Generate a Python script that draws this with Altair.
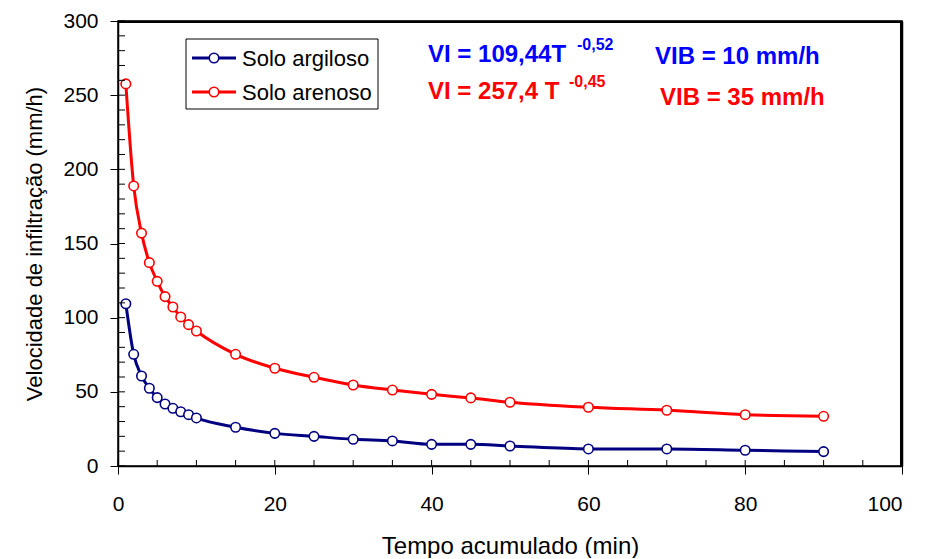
import altair as alt
import pandas as pd

# Data
t_arg = [1, 2, 3, 4, 5, 6, 7, 8, 9, 10, 15, 20, 25, 30, 35, 40, 45, 50, 60, 70, 80, 90]
v_arg = [109.4, 75.3, 60.7, 52.4, 46.1, 41.8, 38.9, 36.6, 34.6, 32.4, 26.1, 22.0, 20.0,
         18.0, 16.9, 14.6, 14.6, 13.5, 11.5, 11.5, 10.6, 9.7]
t_are = [1, 2, 3, 4, 5, 6, 7, 8, 9, 10, 15, 20, 25, 30, 35, 40, 45, 50, 60, 70, 80, 90]
v_are = [257.6, 188.8, 157.0, 137.1, 124.5, 114.2, 107.2, 100.5, 95.3, 91.0, 75.3, 65.9, 59.8,
         54.6, 51.2, 48.3, 45.9, 43.0, 39.6, 37.6, 34.6, 33.5]
series_names = ["Solo argiloso", "Solo arenoso"]
series_colors = ["#000080", "#FF0000"]
x_major = [0, 20, 40, 60, 80, 100]
y_major = [0, 50, 100, 150, 200, 250, 300]
x_minor = list(range(0, 101, 5))
y_minor = list(range(0, 301, 10))
x_max = [100]
y_max = [300]

FONT = "Liberation Sans"
W, H = 784, 445

df_arg = pd.DataFrame({"T": t_arg, "V": v_arg})
df_are = pd.DataFrame({"T": t_are, "V": v_are})

xs = alt.Scale(domain=[0, 100], nice=False, zero=False)
ys = alt.Scale(domain=[0, 300], nice=False)

xenc = alt.X("T:Q", scale=xs, axis=alt.Axis(
    title="Tempo acumulado (min)", values=x_major, tickSize=8, tickColor="black",
    domainColor="black", domainWidth=1.5, tickWidth=1, labelFontSize=21, titleFontSize=24,
    labelFont=FONT, titleFont=FONT, labelColor="black", titleColor="black",
    labelPadding=19, titlePadding=20, grid=False, titleFontWeight="normal",
    labelFlush=False,
    labelAlign={"condition": {"test": "datum.value == 100", "value": "right"}, "value": "center"}))
yenc = alt.Y("V:Q", scale=ys, axis=alt.Axis(
    title="Velocidade de infiltração (mm/h)", values=y_major, tickSize=8, tickColor="black",
    domainColor="black", domainWidth=1.5, tickWidth=1, labelFontSize=21, titleFontSize=22,
    labelFont=FONT, titleFont=FONT, labelColor="black", titleColor="black",
    labelPadding=12, titlePadding=16, grid=False, titleFontWeight="normal"))

XN = alt.X("T:Q", scale=xs, axis=None)
YN = alt.Y("V:Q", scale=ys, axis=None)

layers = []

# frame: top and right axis domains
layers.append(alt.Chart(pd.DataFrame({"T": x_max, "V": y_max})).mark_point(opacity=0).encode(
    x=alt.X("T:Q", scale=xs, axis=alt.Axis(orient="top", labels=False, ticks=False, title=None,
                                          grid=False, domainColor="black", domainWidth=1.5)),
    y=alt.Y("V:Q", scale=ys, axis=alt.Axis(orient="right", labels=False, ticks=False, title=None,
                                          grid=False, domainColor="black", domainWidth=1.5))))

first = True
for df, color in [(df_arg, series_colors[0]), (df_are, series_colors[1])]:
    base = alt.Chart(df)
    layers.append(base.mark_line(color=color, strokeWidth=3, interpolate="monotone")
                  .encode(x=xenc if first else XN, y=yenc if first else YN))
    layers.append(base.mark_point(shape="circle", filled=True, fill="white", stroke=color,
                                  strokeWidth=1.6, size=90, opacity=1)
                  .encode(x=XN, y=YN))
    first = False

# minor ticks (inside)
ymin_df = pd.DataFrame({"V": y_minor})
xmin_df = pd.DataFrame({"T": x_minor})
layers.append(alt.Chart(ymin_df).mark_rule(color="black", strokeWidth=1)
              .encode(y=YN, x=alt.value(0), x2=alt.value(7)))
layers.append(alt.Chart(xmin_df).mark_rule(color="black", strokeWidth=1)
              .encode(x=XN, y=alt.value(H), y2=alt.value(H - 6)))

one_row = pd.DataFrame({"a": [0]})

# legend (manual)
layers.append(alt.Chart(one_row).mark_rect(
    fill="white", stroke="black", strokeWidth=1).encode(
    x=alt.value(68), x2=alt.value(260), y=alt.value(18), y2=alt.value(88)))
for i, (name, color) in enumerate(zip(series_names, series_colors)):
    yy = 37 + i * 34
    one = alt.Chart(one_row)
    layers.append(one.mark_rule(color=color, strokeWidth=3).encode(
        x=alt.value(74), x2=alt.value(118), y=alt.value(yy)))
    layers.append(one.mark_point(shape="circle", filled=True, fill="white", stroke=color,
                                 strokeWidth=1.6, size=90, opacity=1).encode(
        x=alt.value(96), y=alt.value(yy)))
    layers.append(one.mark_text(align="left", baseline="middle", font=FONT, fontSize=22,
                                color="black").encode(
        x=alt.value(124), y=alt.value(yy + 1), text=alt.value(name)))

# annotations
annots = [
    ("VI = 109,44T", 310, 34, 24, "#0000FF"),
    ("-0,52", 459, 24, 16, "#0000FF"),
    ("VIB = 10 mm/h", 537, 36, 24, "#0000FF"),
    ("VI = 257,4 T", 310, 71, 24, "#FF0000"),
    ("-0,45", 451, 61, 16, "#FF0000"),
    ("VIB = 35 mm/h", 542, 77, 24, "#FF0000"),
]
for txt, x, y, fs, col in annots:
    layers.append(alt.Chart(one_row).mark_text(
        align="left", baseline="middle", font=FONT, fontSize=fs, fontWeight="bold",
        color=col).encode(x=alt.value(x), y=alt.value(y), text=alt.value(txt)))

# frame edges drawn last, slightly inside the plot area
layers.append(alt.Chart(one_row).mark_rule(color="black", strokeWidth=2).encode(
    x=alt.value(0), x2=alt.value(W), y=alt.value(1)))
layers.append(alt.Chart(one_row).mark_rule(color="black", strokeWidth=2).encode(
    x=alt.value(W - 1), y=alt.value(0), y2=alt.value(H)))

chart = alt.layer(*layers).resolve_axis(x="independent", y="independent").properties(
    width=W, height=H,
    autosize=alt.AutoSizeParams(type="none"),
    padding={"left": 110, "top": 13, "right": 16, "bottom": 92},
).configure(background="white").configure_view(stroke="black", strokeWidth=1.5)

chart.save("out.html", embed_options={"renderer": "svg", "actions": False})
